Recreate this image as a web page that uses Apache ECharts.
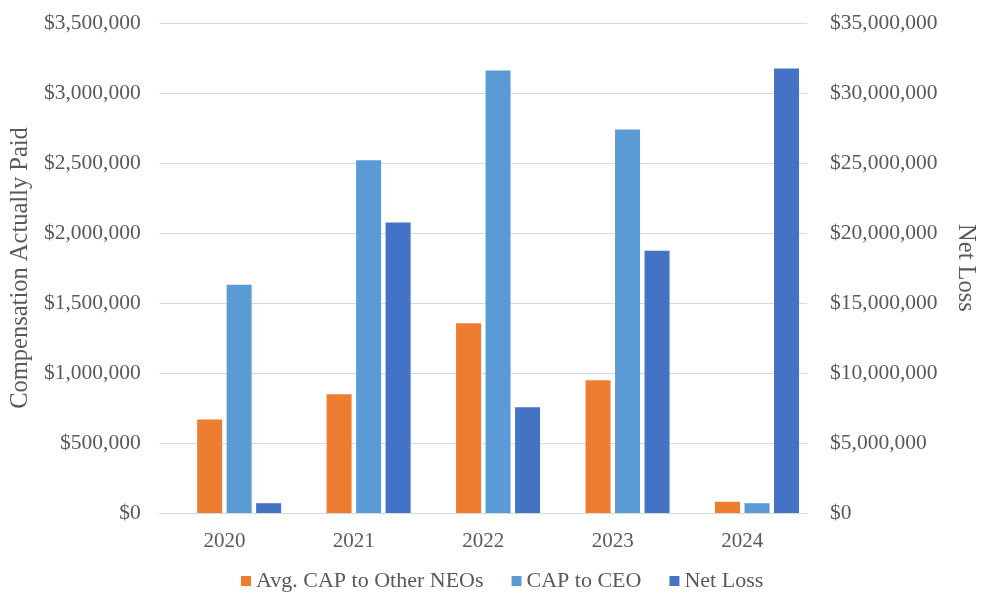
<!DOCTYPE html>
<html>
<head>
<meta charset="utf-8">
<script src="https://cdn.jsdelivr.net/npm/echarts@6/dist/echarts.min.js"></script>
<style>
  html, body { margin: 0; padding: 0; background: #ffffff; }
  #chart { width: 986px; height: 597px; }
</style>
</head>
<body>
<div id="chart"></div>
<script>
// Fiscal years on the category axis
const years = ['2020', '2021', '2022', '2023', '2024'];

// Compensation actually paid (left axis, USD)
const avgCapOtherNeos = [668000, 848000, 1355000, 948000, 80000];
const capToCeo = [1630000, 2520000, 3160000, 2740000, 70000];

// Net loss (right axis, USD)
const netLoss = [700000, 20750000, 7550000, 18740000, 31750000];

// Axis ranges
const leftAxisMax = 3500000, leftAxisStep = 500000;
const rightAxisMax = 35000000, rightAxisStep = 5000000;

const seriesNames = ['Avg. CAP to Other NEOs', 'CAP to CEO', 'Net Loss'];

const textColor = '#595959';
const gridColor = '#d9d9d9';
const fontFamily = '"Liberation Serif", "Times New Roman", serif';

const money = v => '$' + Number(v).toLocaleString('en-US');

const chart = echarts.init(document.getElementById('chart'), null, { renderer: 'canvas' });

const barBase = { type: 'bar', barWidth: 25, barGap: '18%' };

chart.setOption({
  animation: false,
  backgroundColor: '#ffffff',
  textStyle: { fontFamily: fontFamily },
  grid: { left: 156, right: 171, top: 23, bottom: 84, containLabel: false },
  legend: {
    data: seriesNames,
    bottom: 0,
    left: 236,
    itemWidth: 10,
    itemHeight: 10,
    itemGap: 28,
    icon: 'rect',
    textStyle: { color: textColor, fontSize: 22, fontFamily: fontFamily }
  },
  xAxis: {
    type: 'category',
    data: years,
    axisTick: { show: false },
    axisLine: { lineStyle: { color: gridColor, width: 1 } },
    axisLabel: { color: textColor, fontSize: 21, fontFamily: fontFamily, margin: 18 }
  },
  yAxis: [
    {
      type: 'value',
      min: 0,
      max: leftAxisMax,
      interval: leftAxisStep,
      name: 'Compensation Actually Paid',
      nameLocation: 'middle',
      nameRotate: 90,
      nameGap: 124,
      nameTextStyle: { color: textColor, fontSize: 24.5, fontFamily: fontFamily },
      axisLine: { show: false },
      axisTick: { show: false },
      axisLabel: { color: textColor, fontSize: 21.5, fontFamily: fontFamily, margin: 19, formatter: money },
      splitLine: { lineStyle: { color: gridColor, width: 1 } }
    },
    {
      type: 'value',
      min: 0,
      max: rightAxisMax,
      interval: rightAxisStep,
      name: 'Net Loss',
      nameLocation: 'middle',
      nameRotate: -90,
      nameGap: 146,
      nameTextStyle: { color: textColor, fontSize: 24.5, fontFamily: fontFamily },
      axisLine: { show: false },
      axisTick: { show: false },
      axisLabel: { color: textColor, fontSize: 21.5, fontFamily: fontFamily, margin: 23, formatter: money },
      splitLine: { show: false }
    }
  ],
  series: [
    // empty leading slot in each category group
    Object.assign({}, barBase, { name: 'spacer', data: [], yAxisIndex: 0, silent: true }),
    Object.assign({}, barBase, {
      name: seriesNames[0], data: avgCapOtherNeos, yAxisIndex: 0,
      itemStyle: { color: '#ED7D31' }
    }),
    Object.assign({}, barBase, {
      name: seriesNames[1], data: capToCeo, yAxisIndex: 0,
      itemStyle: { color: '#5B9BD5' }
    }),
    Object.assign({}, barBase, {
      name: seriesNames[2], data: netLoss, yAxisIndex: 1,
      itemStyle: { color: '#4472C4' }
    })
  ]
});
</script>
</body>
</html>
